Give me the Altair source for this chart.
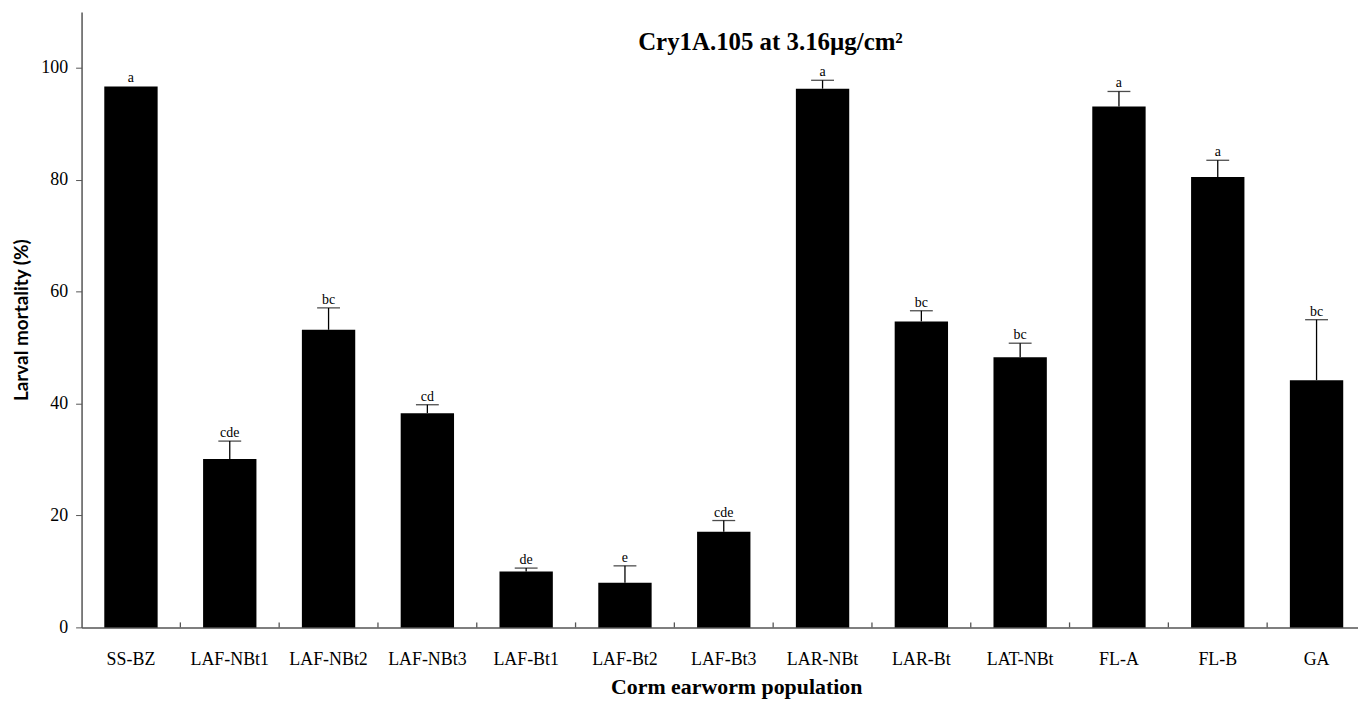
import altair as alt
import pandas as pd

categories = ["SS-BZ", "LAF-NBt1", "LAF-NBt2", "LAF-NBt3", "LAF-Bt1", "LAF-Bt2",
              "LAF-Bt3", "LAR-NBt", "LAR-Bt", "LAT-NBt", "FL-A", "FL-B", "GA"]
mortality = [96.7, 30.1, 53.2, 38.3, 10.0, 8.0, 17.1, 96.3, 54.7, 48.3, 93.1, 80.5, 44.2]
upper = [96.7, 33.3, 57.1, 39.8, 10.6, 11.0, 19.1, 97.8, 56.6, 50.8, 95.8, 83.5, 55.0]
letters = ["a", "cde", "bc", "cd", "de", "e", "cde", "a", "bc", "bc", "a", "a", "bc"]
y_ticks = [0, 20, 40, 60, 80, 100]
title_text = "Cry1A.105 at 3.16\u00b5g/cm\u00b2"
x_title_text = "Corm earworm population"

df = pd.DataFrame({"pop": categories, "mort": mortality, "upper": upper, "letter": letters})
err_df = df[df["upper"] > df["mort"]]

W, H = 1284, 619
AX = "#555555"
SERIF = "Liberation Serif"
SERIF_B = "'Liberation Serif', 'Times New Roman', serif"

x_scale = alt.Scale(domain=categories, range=[0, 1292], paddingInner=0, paddingOuter=0)
y_scale = alt.Scale(domain=[0, 110], nice=False, zero=True)

x_axis = alt.Axis(
    title=None, labelAngle=0, ticks=False, tickSize=0,
    labelFont=SERIF, labelFontSize=18, labelPadding=23, labelColor="black",
    domainColor=AX, domainWidth=1.5, grid=False,
)
y_axis = alt.Axis(
    values=y_ticks, title="Larval mortality (%)", grid=False,
    titleFont="Lato", titleFontSize=19, titleFontWeight="bold", titleColor="black",
    titleAngle=-90, titleX=-60, titleY=309.5, titleAlign="center", titleBaseline="middle",
    labelFont=SERIF, labelFontSize=18, labelColor="black", labelPadding=8,
    tickSize=6, tickColor=AX, domainColor=AX, domainWidth=1.5,
)

x_enc = alt.X("pop:N", scale=x_scale, axis=x_axis, sort=None)

bars = alt.Chart(df).mark_bar(color="black", width=alt.RelativeBandSize(0.54)).encode(
    x=x_enc,
    y=alt.Y("mort:Q", scale=y_scale, axis=y_axis),
)

stems = alt.Chart(err_df).mark_rule(color="black", strokeWidth=1.3).encode(
    x=x_enc,
    y=alt.Y("mort:Q", scale=y_scale, axis=y_axis),
    y2="upper:Q",
)

caps = alt.Chart(err_df).mark_tick(color="black", size=23, thickness=1.3, orient="horizontal").encode(
    x=x_enc,
    y=alt.Y("upper:Q", scale=y_scale, axis=y_axis),
)

labels = alt.Chart(df).mark_text(font=SERIF, fontSize=14, baseline="alphabetic", dy=-4, color="black").encode(
    x=x_enc,
    y=alt.Y("upper:Q", scale=y_scale, axis=y_axis),
    text="letter:N",
)

xticks = alt.Chart(df).mark_rule(color=AX, strokeWidth=1.3).encode(
    x=alt.X("pop:N", scale=x_scale, axis=x_axis, sort=None, bandPosition=1),
    y=alt.value(H),
    y2=alt.value(H - 5),
)

title = alt.Chart(pd.DataFrame({"t": [title_text]})).mark_text(
    font=SERIF_B, fontSize=25, fontWeight="bold", color="black",
    baseline="alphabetic", align="center"
).encode(
    text="t:N",
    x=alt.value(693),
    y=alt.value(38),
)

x_title = alt.Chart(pd.DataFrame({"t": [x_title_text]})).mark_text(
    font=SERIF_B, fontSize=22, fontWeight="bold", color="black",
    baseline="alphabetic", align="center"
).encode(
    text="t:N",
    x=alt.value(659),
    y=alt.value(H + 67),
)

chart = alt.layer(bars, stems, caps, labels, xticks, title, x_title).properties(
    width=W, height=H, background="white",
    autosize=alt.AutoSizeParams(type="none"),
    padding={"left": 74, "top": 2, "right": 0, "bottom": 73},
).configure_view(stroke=None)

chart.save("out.html", embed_options={"renderer": "svg", "actions": False})
